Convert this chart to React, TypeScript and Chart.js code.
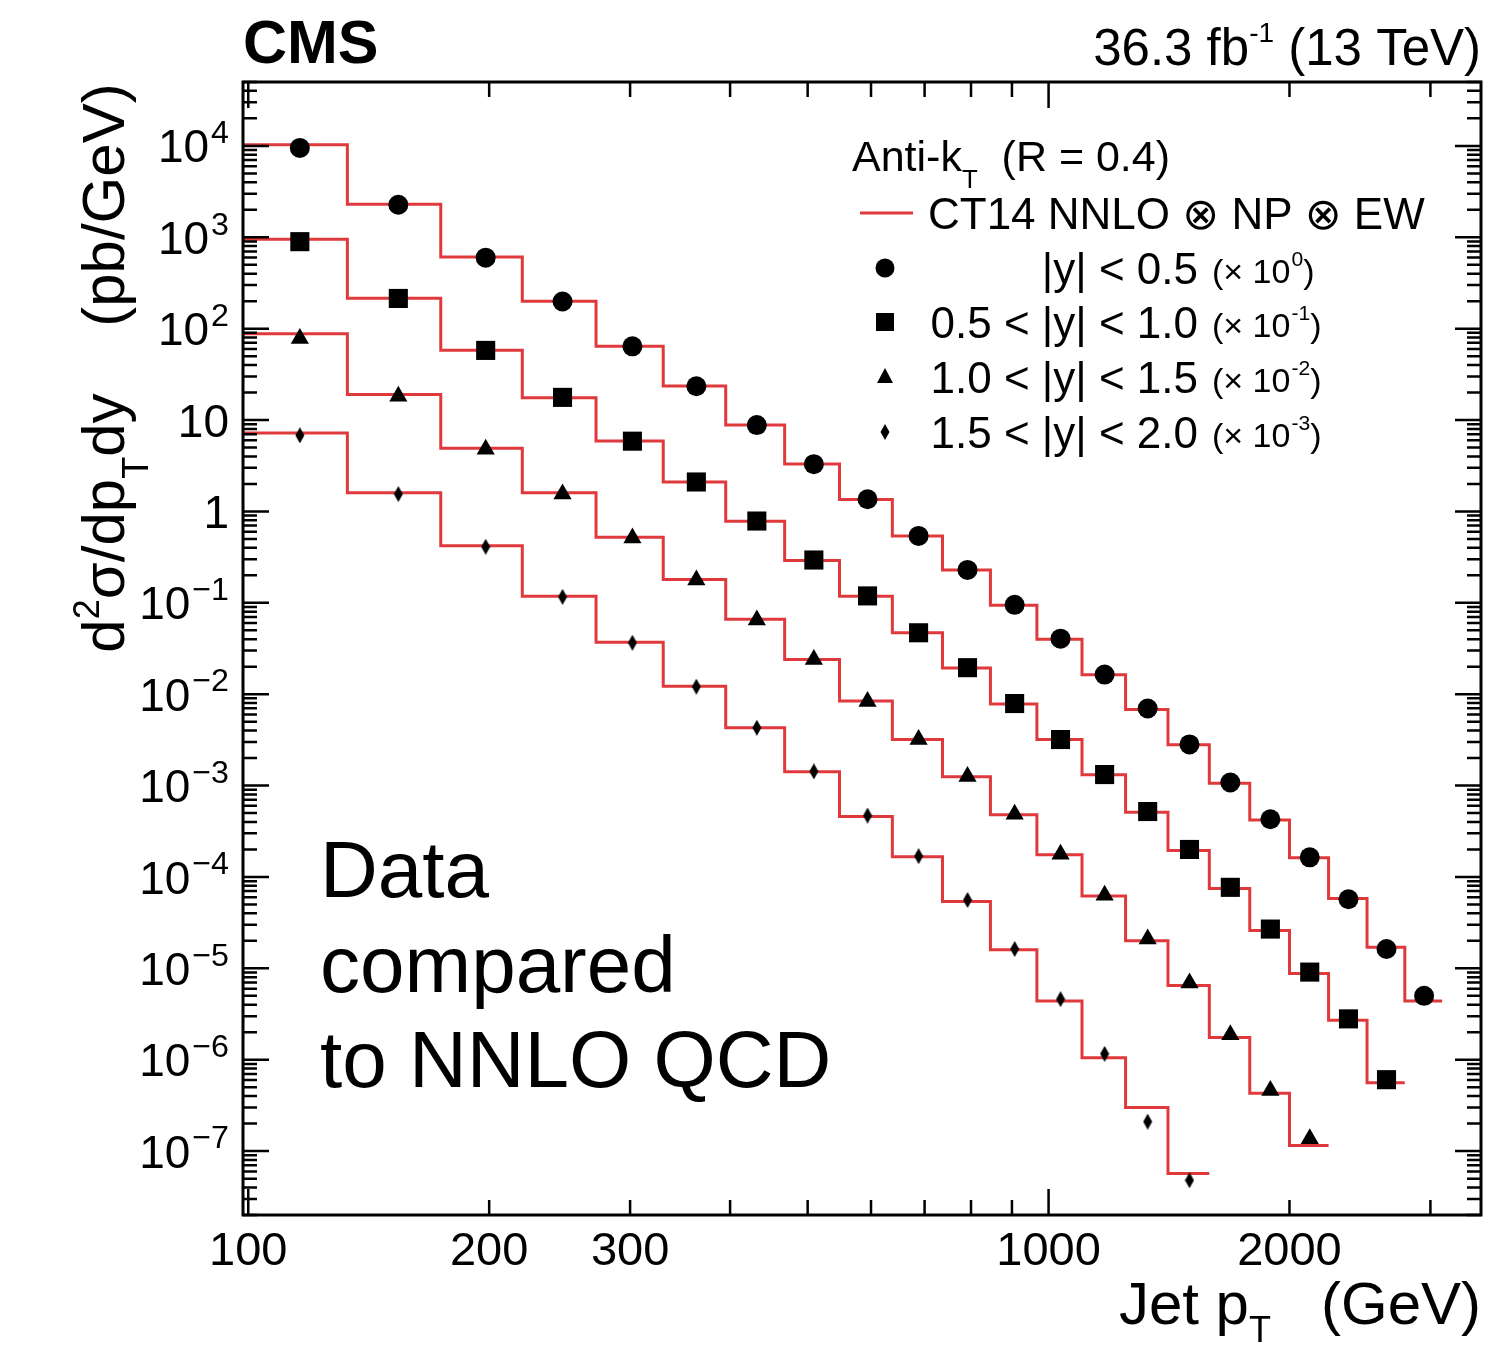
import React, { useEffect, useRef } from "react";
import { Chart, registerables } from "chart.js";

Chart.register(...registerables);

// ---------------- data ----------------
const binEdges = [97, 133, 174, 220, 272, 330, 395, 468, 548, 638, 737, 846, 967, 1101, 1248, 1410, 1588, 1784, 2000, 2238, 2500, 2787, 3103];
const ptCenters = [116, 154, 198, 247, 302, 363, 432, 509, 594, 688, 792, 907, 1035, 1175, 1330, 1500, 1687, 1893, 2120, 2370, 2644, 2946];

// |y| < 0.5 (x 10^0)
const dataY0 = [9500, 2270, 598, 198, 64, 23.4, 8.8, 3.29, 1.36, 0.54, 0.229, 0.095, 0.0405, 0.0164, 0.00697, 0.00282, 0.00108, 4.28e-4, 1.64e-4, 5.7e-5, 1.63e-5, 5.0e-6];
const theoryY0 = [10300, 2300, 610, 200, 64, 23.5, 8.8, 3.3, 1.35, 0.54, 0.228, 0.094, 0.04, 0.0163, 0.0068, 0.0028, 0.00106, 4.2e-4, 1.62e-4, 5.8e-5, 1.7e-5, 4.4e-6];
// 0.5 < |y| < 1.0 (x 10^-1)
const dataY1 = [895, 214, 57.8, 17.7, 5.87, 2.1, 0.785, 0.294, 0.119, 0.047, 0.0195, 0.0079, 0.00319, 0.00132, 5.2e-4, 2.0e-4, 7.7e-5, 2.69e-5, 9.1e-6, 2.8e-6, 6.05e-7];
const theoryY1 = [950, 215, 58, 17.5, 5.9, 2.1, 0.78, 0.29, 0.118, 0.047, 0.0193, 0.0078, 0.0032, 0.00131, 5.1e-4, 1.95e-4, 7.5e-5, 2.6e-5, 8.8e-6, 2.7e-6, 5.6e-7];
// 1.0 < |y| < 1.5 (x 10^-2)
const dataY2 = [78, 18.2, 4.8, 1.55, 0.513, 0.178, 0.065, 0.0239, 0.0083, 0.00319, 0.00126, 4.85e-4, 1.77e-4, 6.3e-5, 2.09e-5, 6.9e-6, 1.88e-6, 4.6e-7, 1.37e-7];
const theoryY2 = [88, 19, 4.9, 1.6, 0.52, 0.18, 0.066, 0.024, 0.0084, 0.0032, 0.00125, 4.8e-4, 1.75e-4, 6.2e-5, 2.0e-5, 6.5e-6, 1.75e-6, 4.3e-7, 1.15e-7];
// 1.5 < |y| < 2.0 (x 10^-3)
const dataY3 = [6.8, 1.55, 0.41, 0.116, 0.0366, 0.0121, 0.0043, 0.00143, 4.7e-4, 1.69e-4, 5.6e-5, 1.63e-5, 4.6e-6, 1.16e-6, 2.1e-7, 4.8e-8];
const theoryY3 = [7.2, 1.6, 0.42, 0.118, 0.037, 0.0122, 0.0043, 0.00142, 4.6e-4, 1.66e-4, 5.4e-5, 1.6e-5, 4.4e-6, 1.05e-6, 3.0e-7, 5.7e-8];

const seriesLabels = ["|y| < 0.5", "0.5 < |y| < 1.0", "1.0 < |y| < 1.5", "1.5 < |y| < 2.0"];
const seriesScaleExp = ["0", "-1", "-2", "-3"];

const yTickExps = [4, 3, 2, 1, 0, -1, -2, -3, -4, -5, -6, -7];
const xTickLabels = [100, 200, 300, 1000, 2000];

const X_MIN = 98.5;
const X_MAX = 3470;
const Y_MIN = 2e-8;
const Y_MAX = 5e4;

// ---------------- helpers ----------------
const FONT = "'Liberation Sans', Arial, Helvetica, 'DejaVu Sans', sans-serif";
const RED = "#e0393c";

type Part = { t: string; k?: "sup" | "sub"; gap?: number };

function measureRich(ctx: CanvasRenderingContext2D, parts: Part[], size: number, bold: boolean, ratio: number) {
  let w = 0;
  for (const p of parts) {
    const s = p.k ? size * ratio : size;
    ctx.font = `${bold ? "bold " : ""}${s}px ${FONT}`;
    w += ctx.measureText(p.t).width + (p.gap || 0);
  }
  return w;
}

function drawRich(
  ctx: CanvasRenderingContext2D,
  parts: Part[],
  x: number,
  y: number,
  size: number,
  align: "left" | "right" | "center",
  bold = false,
  ratio = 0.62,
  supShift = 0.42,
  subShift = 0.3
) {
  const w = measureRich(ctx, parts, size, bold, ratio);
  let cx = align === "left" ? x : align === "right" ? x - w : x - w / 2;
  ctx.textAlign = "left";
  ctx.textBaseline = "alphabetic";
  for (const p of parts) {
    const s = p.k ? size * ratio : size;
    ctx.font = `${bold ? "bold " : ""}${s}px ${FONT}`;
    cx += p.gap || 0;
    const dy = p.k === "sup" ? -size * supShift : p.k === "sub" ? size * subShift : 0;
    ctx.fillText(p.t, cx, y + dy);
    cx += ctx.measureText(p.t).width;
  }
  return w;
}

function stepPoints(theory: number[]) {
  const pts: { x: number; y: number }[] = theory.map((v, i) => ({ x: binEdges[i], y: v }));
  pts.push({ x: binEdges[theory.length], y: theory[theory.length - 1] });
  return pts;
}

function markerPoints(vals: number[]) {
  return vals.map((v, i) => ({ x: ptCenters[i], y: v }));
}

function makeDiamond(): HTMLCanvasElement {
  const c = document.createElement("canvas");
  c.width = 10;
  c.height = 16;
  const g = c.getContext("2d")!;
  g.fillStyle = "#000";
  g.beginPath();
  g.moveTo(5, 0);
  g.lineTo(9.5, 8);
  g.lineTo(5, 16);
  g.lineTo(0.5, 8);
  g.closePath();
  g.fill();
  return c;
}

// ---------------- decorations plugin ----------------
const decorPlugin = {
  id: "rootDecor",
  afterDraw(chart: any) {
    const ctx: CanvasRenderingContext2D = chart.ctx;
    const { left, right, top, bottom } = chart.chartArea;
    const xs = chart.scales.x;
    const ys = chart.scales.y;
    ctx.save();
    ctx.fillStyle = "#000";
    ctx.strokeStyle = "#000";

    // frame
    ctx.lineWidth = 3;
    ctx.strokeRect(left, top, right - left, bottom - top);

    // y ticks (inside, both sides)
    ctx.lineWidth = 2.5;
    for (let e = -9; e <= 5; e++) {
      for (let m = 1; m <= 9; m++) {
        const v = m * Math.pow(10, e);
        if (v < Y_MIN * 0.999 || v > Y_MAX * 1.001) continue;
        const py = ys.getPixelForValue(v);
        const len = m === 1 ? 26 : 14;
        ctx.beginPath();
        ctx.moveTo(left, py);
        ctx.lineTo(left + len, py);
        ctx.moveTo(right, py);
        ctx.lineTo(right - len, py);
        ctx.stroke();
      }
    }
    // x ticks (inside, bottom and top)
    for (let e = 2; e <= 3; e++) {
      for (let m = 1; m <= 9; m++) {
        const v = m * Math.pow(10, e);
        if (v < X_MIN * 0.999 || v > X_MAX * 1.001) continue;
        const px = xs.getPixelForValue(v);
        const len = m === 1 ? 26 : 15;
        ctx.beginPath();
        ctx.moveTo(px, bottom);
        ctx.lineTo(px, bottom - len);
        ctx.moveTo(px, top);
        ctx.lineTo(px, top + len);
        ctx.stroke();
      }
    }

    // y tick labels
    const tickSize = 46;
    for (const e of yTickExps) {
      const py = ys.getPixelForValue(Math.pow(10, e));
      const base = py + tickSize * 0.36;
      let parts: Part[];
      if (e === 0) parts = [{ t: "1" }];
      else if (e === 1) parts = [{ t: "10" }];
      else parts = [{ t: "10" }, { t: e < 0 ? "\u2212" + String(-e) : String(e), k: "sup", gap: 2 }];
      drawRich(ctx, parts, left - 14, base, tickSize, "right", false, 0.7, 0.42);
    }
    // x tick labels
    for (const v of xTickLabels) {
      const px = xs.getPixelForValue(v);
      drawRich(ctx, [{ t: String(v) }], px, bottom + 50, 47, "center");
    }

    // header
    drawRich(ctx, [{ t: "CMS" }], left, 63, 61, "left", true);
    drawRich(ctx, [{ t: "36.3 fb" }, { t: "-1", k: "sup" }, { t: " (13 TeV)" }], right, 65, 51, "right", false, 0.55, 0.45);

    // x axis title
    drawRich(ctx, [{ t: "Jet p" }, { t: "T", k: "sub" }, { t: "   (GeV)" }], right, 1324, 60, "right", false, 0.6, 0.4);

    // y axis title (rotated)
    ctx.save();
    ctx.translate(124, 368);
    ctx.rotate(-Math.PI / 2);
    drawRich(
      ctx,
      [{ t: "d" }, { t: "2", k: "sup" }, { t: "\u03c3/dp" }, { t: "T", k: "sub" }, { t: "dy    (pb/GeV)" }],
      0,
      0,
      60,
      "center",
      false,
      0.6,
      0.42,
      0.4
    );
    ctx.restore();

    // legend
    drawRich(ctx, [{ t: "Anti-k" }, { t: "T", k: "sub" }, { t: "  (R = 0.4)" }], 852, 171, 43, "left", false, 0.6, 0.4, 0.4);
    ctx.strokeStyle = RED;
    ctx.lineWidth = 3;
    ctx.beginPath();
    ctx.moveTo(860, 213);
    ctx.lineTo(913, 213);
    ctx.stroke();
    drawRich(ctx, [{ t: "CT14 NNLO \u2297 NP \u2297 EW" }], 928, 229, 44, "left");

    const rowY = [268, 322, 377, 432];
    // markers in legend
    ctx.fillStyle = "#000";
    ctx.beginPath();
    ctx.arc(885, rowY[0], 9.5, 0, Math.PI * 2);
    ctx.fill();
    ctx.fillRect(876, rowY[1] - 9, 18, 18);
    ctx.beginPath();
    ctx.moveTo(885, rowY[2] - 9);
    ctx.lineTo(893, rowY[2] + 6);
    ctx.lineTo(877, rowY[2] + 6);
    ctx.closePath();
    ctx.fill();
    ctx.beginPath();
    ctx.moveTo(885, rowY[3] - 8);
    ctx.lineTo(889.5, rowY[3]);
    ctx.lineTo(885, rowY[3] + 8);
    ctx.lineTo(880.5, rowY[3]);
    ctx.closePath();
    ctx.fill();

    for (let i = 0; i < 4; i++) {
      const base = rowY[i] + 16;
      drawRich(ctx, [{ t: seriesLabels[i] }], 1198, base, 44, "right");
      drawRich(ctx, [{ t: "(\u00d7 10" }, { t: seriesScaleExp[i], k: "sup", gap: 1 }, { t: ")" }], 1212, base - 1, 34, "left", false, 0.62, 0.5);
    }

    // annotation
    ctx.font = `80px ${FONT}`;
    ctx.textAlign = "left";
    ctx.textBaseline = "alphabetic";
    ctx.fillStyle = "#000";
    ctx.fillText("Data", 320, 897);
    ctx.fillText("compared", 320, 992);
    ctx.fillText("to NNLO QCD", 320, 1087);

    ctx.restore();
  },
};

export default function App() {
  const canvasRef = useRef<HTMLCanvasElement | null>(null);

  useEffect(() => {
    document.body.style.margin = "0";
    const canvas = canvasRef.current;
    if (!canvas) return;
    const diamond = makeDiamond();

    const lineDs = (th: number[], label: string) => ({
      type: "line" as const,
      label,
      data: stepPoints(th),
      borderColor: RED,
      borderWidth: 3,
      stepped: "before" as const,
      pointRadius: 0,
      fill: false,
      order: 2,
    });
    const markDs = (vals: number[], label: string, style: any, radius: number) => ({
      type: "scatter" as const,
      label,
      data: markerPoints(vals),
      pointStyle: style,
      pointRadius: radius,
      pointHoverRadius: radius,
      backgroundColor: "#000",
      borderColor: "#000",
      borderWidth: 0,
      showLine: false,
      order: 1,
    });

    const chart = new Chart(canvas, {
      type: "scatter",
      data: {
        datasets: [
          lineDs(theoryY0, "CT14 |y|<0.5"),
          lineDs(theoryY1, "CT14 0.5<|y|<1.0"),
          lineDs(theoryY2, "CT14 1.0<|y|<1.5"),
          lineDs(theoryY3, "CT14 1.5<|y|<2.0"),
          markDs(dataY0, seriesLabels[0], "circle", 10),
          markDs(dataY1, seriesLabels[1], "rect", 13.5),
          markDs(dataY2, seriesLabels[2], "triangle", 10.5),
          markDs(dataY3, seriesLabels[3], diamond, 8),
        ] as any,
      },
      options: {
        responsive: false,
        animation: false,
        devicePixelRatio: 1,
        layout: { padding: { left: 243, right: 26, top: 82, bottom: 140 } },
        plugins: { legend: { display: false }, tooltip: { enabled: false }, title: { display: false } },
        scales: {
          x: { type: "logarithmic", min: X_MIN, max: X_MAX, display: false },
          y: { type: "logarithmic", min: Y_MIN, max: Y_MAX, display: false },
        },
      },
      plugins: [decorPlugin],
    });
    return () => chart.destroy();
  }, []);

  return (
    <div style={{ width: 1507, height: 1355, background: "#fff" }}>
      <canvas ref={canvasRef} width={1507} height={1355} style={{ display: "block" }} />
    </div>
  );
}
